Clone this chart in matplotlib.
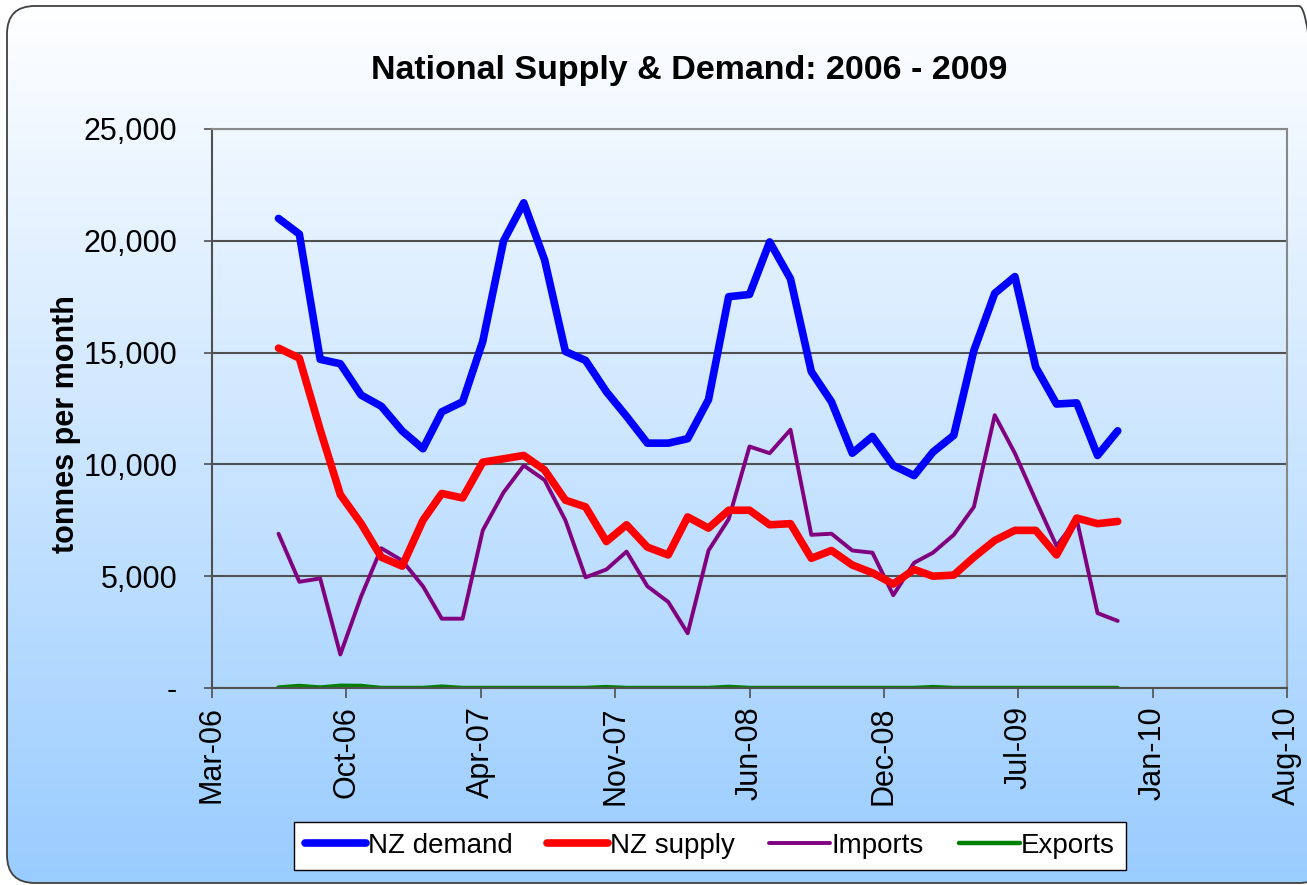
import numpy as np
import pandas as pd
import matplotlib
matplotlib.use("Agg")
import matplotlib.pyplot as plt
import matplotlib.dates as mdates
from matplotlib.patches import FancyBboxPatch
from matplotlib.ticker import FuncFormatter
from matplotlib.colors import LinearSegmentedColormap

# monthly data, Jul-06 .. Dec-09
months = pd.date_range("2006-07-01", periods=42, freq="MS")

nz_demand = [21000, 20300, 14700, 14500, 13100, 12600, 11500, 10700, 12350, 12800,
             15500, 20000, 21700, 19150, 15050, 14650, 13250, 12150, 10950, 10950,
             11150, 12900, 17500, 17600, 19950, 18300, 14150, 12800, 10500, 11250,
             9950, 9500, 10550, 11300, 15100, 17650, 18400, 14350, 12700, 12750,
             10400, 11500]
nz_supply = [15200, 14750, 11550, 8650, 7350, 5850, 5450, 7500, 8700, 8500,
             10100, 10250, 10400, 9750, 8400, 8100, 6550, 7300, 6300, 5950,
             7650, 7150, 7950, 7950, 7300, 7350, 5800, 6150, 5500, 5150,
             4650, 5300, 5000, 5050, 5850, 6600, 7050, 7050, 5950, 7600,
             7350, 7450]
imports = [6900, 4750, 4900, 1500, 4100, 6250, 5700, 4550, 3100, 3100,
           7050, 8750, 9950, 9300, 7500, 4950, 5300, 6100, 4550, 3850,
           2450, 6150, 7550, 10800, 10500, 11550, 6850, 6900, 6150, 6050,
           4150, 5600, 6050, 6850, 8100, 12200, 10500, 8400, 6350, 7550,
           3350, 3000]
exports = [20, 90, 20, 100, 90, 0, 0, 0, 60, 0,
           0, 0, 0, 0, 0, 0, 40, 0, 0, 0,
           0, 0, 50, 0, 0, 0, 0, 0, 0, 0,
           0, 0, 40, 0, 0, 0, 0, 0, 0, 0,
           0, 0]

series_names = ["NZ demand", "NZ supply", "Imports", "Exports"]
series_colors = ["#0000ff", "#ff0000", "#800080", "#008000"]
series_widths = [5.5, 5.5, 2.8, 3.2]

axis_start = pd.Timestamp("2006-03-24")
tick_dates = [axis_start + pd.Timedelta(days=200 * k) for k in range(9)]

plt.rcParams["font.family"] = ["Liberation Sans", "DejaVu Sans"]

W, H = 1307, 885
fig = plt.figure(figsize=(W / 100, H / 100), dpi=100)
fig.patch.set_facecolor("white")

# gradient background inside a rounded frame
bg = fig.add_axes([0, 0, 1, 1], zorder=-10)
bg.set_axis_off()
grad = np.linspace(0, 1, 256).reshape(-1, 1)
cmap = LinearSegmentedColormap.from_list("bg", ["#ffffff", "#99ccff"])
im = bg.imshow(grad, aspect="auto", cmap=cmap, extent=[0, W, 0, H], origin="upper")
frame = FancyBboxPatch((7, 2), 1320, 877, boxstyle="round,pad=0,rounding_size=28",
                       facecolor="none", edgecolor="#404040", lw=1.3)
bg.add_patch(frame)
im.set_clip_path(frame)
bg.set_xlim(0, W)
bg.set_ylim(0, H)

ax = fig.add_axes([212 / W, 1 - 688 / H, 1075 / W, 559 / H])
ax.set_facecolor("none")

x = mdates.date2num(months)
data = [nz_demand, nz_supply, imports, exports]
handles = []
for vals, name, col, lw in zip(data[::-1], series_names[::-1], series_colors[::-1], series_widths[::-1]):
    ln, = ax.plot(x, vals, color=col, lw=lw, label=name,
                  solid_joinstyle="round", solid_capstyle="round")
    handles.append(ln)
handles = handles[::-1]

ax.set_ylim(0, 25000)
ax.set_yticks(range(0, 25001, 5000))
ax.yaxis.set_major_formatter(FuncFormatter(lambda v, p: "-" if v == 0 else f"{v:,.0f}"))
ax.set_xlim(mdates.date2num(tick_dates[0]), mdates.date2num(tick_dates[-1]))
ax.set_xticks(mdates.date2num(tick_dates))
ax.set_xticklabels([d.strftime("%b-%y") for d in tick_dates], rotation=90, ha="center", va="top")

ax.yaxis.grid(True, color="#505050", lw=1.5)
ax.set_axisbelow(True)
for side in ["left", "bottom"]:
    ax.spines[side].set_color("#505050")
    ax.spines[side].set_linewidth(1.5)
for side in ["top", "right"]:
    ax.spines[side].set_color("#888888")
    ax.spines[side].set_linewidth(1.5)

ax.tick_params(axis="y", length=6, width=1.2, color="#505050", pad=19, labelsize=22)
ax.tick_params(axis="x", length=7, width=1.2, color="#505050", pad=6, labelsize=22)

fig.text(689 / W, 1 - 70 / H, "National Supply & Demand: 2006 - 2009",
         ha="center", va="center", fontsize=24.5, fontweight="bold")
fig.text(66 / W, 1 - 424 / H, "tonnes per month", rotation=90,
         ha="center", va="center", fontsize=22, fontweight="bold")

leg = fig.legend(handles, series_names, loc="center", bbox_to_anchor=(710 / W, 1 - 846 / H),
                 ncol=4, fontsize=20, frameon=True, fancybox=False, edgecolor="black",
                 framealpha=1, handlelength=2.2, handletextpad=0.05, columnspacing=1.25,
                 borderpad=0.4)
leg.get_frame().set_linewidth(1.0)

fig.savefig("out.png", dpi=100)
